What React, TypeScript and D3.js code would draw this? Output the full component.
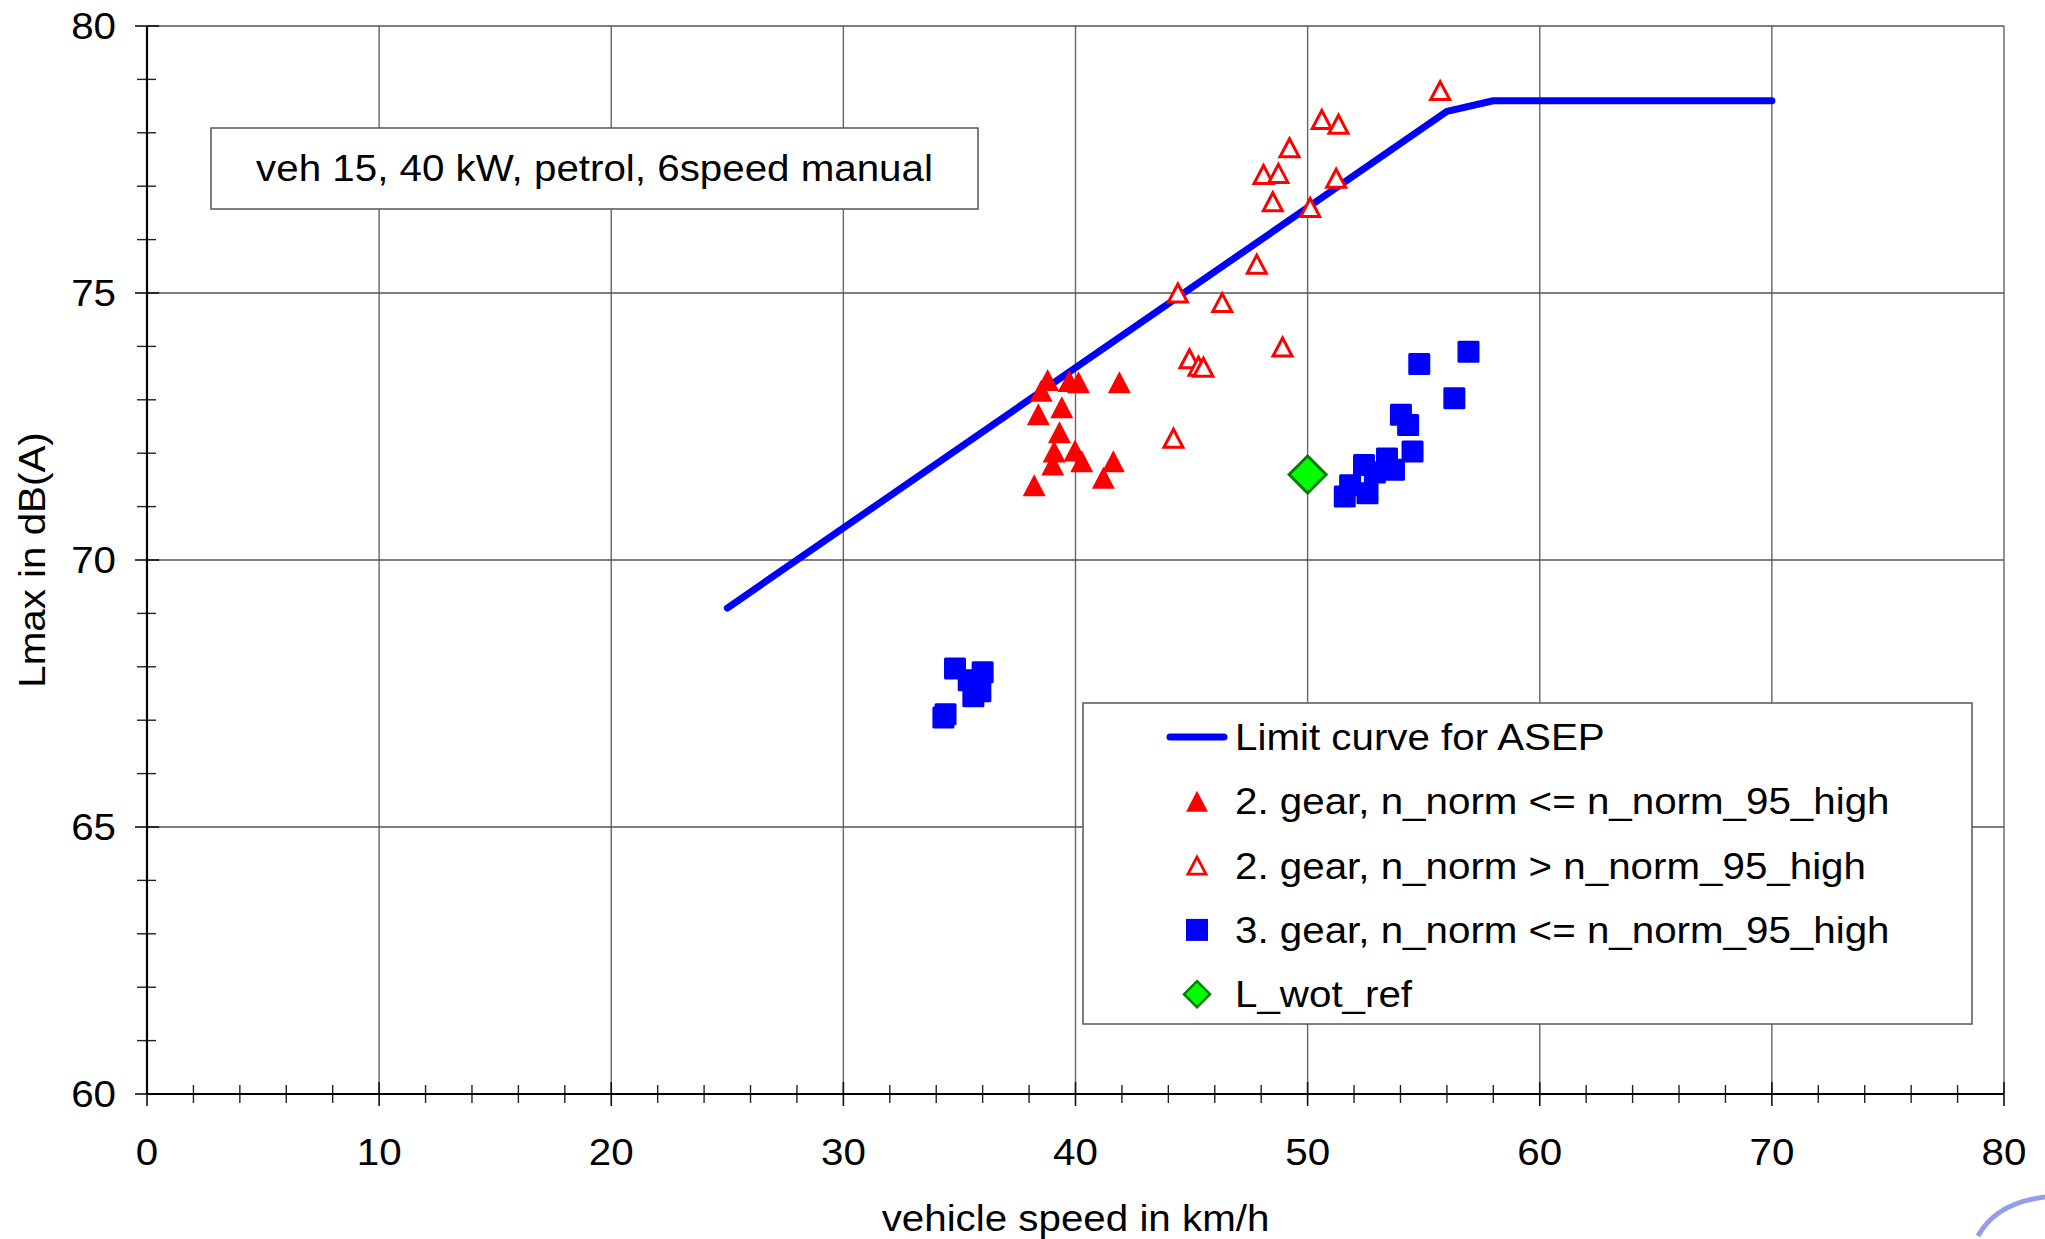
import React from 'react';
import * as d3 from 'd3';

// limit curve (ASEP)
const limitSpeed = [25, 56, 58, 70];
const limitLevel = [69.1, 78.4, 78.6, 78.6];

// 2. gear, n_norm <= n_norm_95_high
const gear2LowSpeed = [38.8, 38.52, 39.73, 40.13, 41.89, 39.41, 38.4, 39.31, 39.08, 39.98, 39.02, 40.27, 41.63, 41.2, 38.22];
const gear2LowLevel = [73.37, 73.17, 73.35, 73.33, 73.33, 72.86, 72.73, 72.39, 72.03, 72.05, 71.79, 71.85, 71.85, 71.54, 71.4];

// 2. gear, n_norm > n_norm_95_high
const gear2HighSpeed = [55.71, 50.61, 51.33, 49.22, 48.1, 48.74, 51.23, 48.5, 50.11, 47.81, 44.41, 46.32, 48.92, 44.91, 45.3, 45.51, 44.22];
const gear2HighLevel = [78.79, 78.25, 78.16, 77.72, 77.22, 77.24, 77.15, 76.71, 76.6, 75.54, 75.0, 74.82, 73.99, 73.77, 73.63, 73.61, 72.28];

// 3. gear, n_norm <= n_norm_95_high
const gear3Speed = [51.6, 51.83, 52.58, 52.43, 52.9, 53.42, 53.72, 54.52, 54.33, 54.02, 56.32, 54.81, 56.93, 34.81, 36.0, 35.4, 35.6, 35.9, 34.31, 34.4];
const gear3Level = [71.19, 71.4, 71.25, 71.78, 71.64, 71.9, 71.69, 72.03, 72.53, 72.72, 73.03, 73.67, 73.9, 67.97, 67.9, 67.75, 67.45, 67.54, 67.05, 67.11];

// L_wot_ref
const wotSpeed = [50.0];
const wotLevel = [71.6];

const xTicks = [0, 10, 20, 30, 40, 50, 60, 70, 80];
const yTicks = [60, 65, 70, 75, 80];

const legendLabels = [
  'Limit curve for ASEP',
  '2. gear, n_norm <= n_norm_95_high',
  '2. gear, n_norm > n_norm_95_high',
  '3. gear, n_norm <= n_norm_95_high',
  'L_wot_ref',
];

const W = 2045;
const H = 1239;
const FONT = "'Liberation Sans', Arial, sans-serif";
const FS = 37;
const STRETCH = 1.09; // text in the original is a bit wider than plain Arial

const triFilled = (cx: number, cy: number, s = 1) =>
  `M${cx},${cy - 11 * s}L${cx + 11.5 * s},${cy + 11 * s}L${cx - 11.5 * s},${cy + 11 * s}Z`;
const triOpen = (cx: number, cy: number, s = 1) =>
  `M${cx},${cy - 9 * s}L${cx + 9.5 * s},${cy + 9 * s}L${cx - 9.5 * s},${cy + 9 * s}Z`;
const diamond = (cx: number, cy: number, r: number) =>
  `M${cx},${cy - r}L${cx + r},${cy}L${cx},${cy + r}L${cx - r},${cy}Z`;

const T = ({ x, y, anchor = 'start', rotate = 0, children }: any) => (
  <text
    transform={`translate(${x},${y}) rotate(${rotate}) scale(${STRETCH},1)`}
    fontSize={FS}
    textAnchor={anchor}
    fill="#000"
  >
    {children}
  </text>
);

export default function App() {
  const x = d3.scaleLinear().domain([0, 80]).range([147, 2004]);
  const y = d3.scaleLinear().domain([60, 80]).range([1094, 26]);

  const xMinor = d3.range(0, 81, 2).filter(v => v % 10 !== 0);
  const yMinor = d3.range(60, 81, 1).filter(v => v % 5 !== 0);

  const line = d3.line<number>()
    .x((_, i) => x(limitSpeed[i]))
    .y((_, i) => y(limitLevel[i]));

  const legX = 1083, legY = 703, legW = 889, legH = 321;
  const rowY = (i: number) => 737 + i * 64.3;
  const symX = 1197;

  return (
    <svg width={W} height={H} style={{ position: 'absolute', left: 0, top: 0, background: '#fff' }} fontFamily={FONT}>
      <rect x={0} y={0} width={W} height={H} fill="#fff" />

      {/* grid */}
      {xTicks.filter(v => v > 0).map(v => (
        <line key={'gx' + v} x1={x(v)} x2={x(v)} y1={y(60)} y2={y(80)} stroke="#666" strokeWidth={1.4} />
      ))}
      {yTicks.filter(v => v > 60).map(v => (
        <line key={'gy' + v} x1={x(0)} x2={x(80)} y1={y(v)} y2={y(v)} stroke="#555" strokeWidth={1.4} />
      ))}

      {/* minor ticks */}
      {xMinor.map(v => (
        <line key={'mx' + v} x1={x(v)} x2={x(v)} y1={y(60) - 9} y2={y(60) + 9} stroke="#222" strokeWidth={1.4} />
      ))}
      {yMinor.map(v => (
        <line key={'my' + v} x1={x(0) - 10} x2={x(0) + 9} y1={y(v)} y2={y(v)} stroke="#222" strokeWidth={1.4} />
      ))}
      {/* major ticks */}
      {xTicks.map(v => (
        <line key={'Mx' + v} x1={x(v)} x2={x(v)} y1={y(60) - 12} y2={y(60) + 12} stroke="#111" strokeWidth={1.6} />
      ))}
      {yTicks.map(v => (
        <line key={'My' + v} x1={x(0) - 12} x2={x(0) + 12} y1={y(v)} y2={y(v)} stroke="#111" strokeWidth={1.6} />
      ))}

      {/* axes */}
      <line x1={x(0)} x2={x(0)} y1={y(80)} y2={y(60)} stroke="#000" strokeWidth={2.2} />
      <line x1={x(0)} x2={x(80)} y1={y(60)} y2={y(60)} stroke="#000" strokeWidth={2.2} />

      {/* tick labels */}
      {xTicks.map(v => (
        <T key={'tx' + v} x={x(v)} y={1165} anchor="middle">{v}</T>
      ))}
      {yTicks.map(v => (
        <T key={'ty' + v} x={116} y={y(v) + 13} anchor="end">{v}</T>
      ))}

      {/* axis titles */}
      <T x={(x(0) + x(80)) / 2} y={1231} anchor="middle">vehicle speed in km/h</T>
      <T x={45} y={(y(60) + y(80)) / 2} anchor="middle" rotate={-90}>Lmax in dB(A)</T>

      {/* annotation */}
      <rect x={211} y={128} width={767} height={81} fill="#fff" stroke="#555" strokeWidth={1.5} />
      <T x={594.5} y={181} anchor="middle">veh 15, 40 kW, petrol, 6speed manual</T>

      {/* limit curve */}
      <path d={line(limitSpeed) || ''} fill="none" stroke="#0000ff" strokeWidth={7} strokeLinecap="round" strokeLinejoin="round" />

      {/* 2. gear > */}
      {gear2HighSpeed.map((v, i) => (
        <path key={'h' + i} d={triOpen(x(v), y(gear2HighLevel[i]))} fill="#fff" stroke="#ff0000" strokeWidth={3} />
      ))}
      {/* 2. gear <= */}
      {gear2LowSpeed.map((v, i) => (
        <path key={'l' + i} d={triFilled(x(v), y(gear2LowLevel[i]))} fill="#ff0000" />
      ))}
      {/* 3. gear */}
      {gear3Speed.map((v, i) => (
        <rect key={'s' + i} x={x(v) - 11} y={y(gear3Level[i]) - 11} width={22} height={22} rx={1.5} fill="#0000ff" />
      ))}
      {/* L_wot_ref */}
      {wotSpeed.map((v, i) => (
        <path key={'w' + i} d={diamond(x(v), y(wotLevel[i]), 18.5)} fill="#00ff00" stroke="#008000" strokeWidth={3} />
      ))}

      {/* legend */}
      <rect x={legX} y={legY} width={legW} height={legH} fill="#fff" stroke="#555" strokeWidth={1.5} />
      <line x1={1170} x2={1224} y1={rowY(0)} y2={rowY(0)} stroke="#0000ff" strokeWidth={7} strokeLinecap="round" />
      <path d={triFilled(symX, rowY(1), 0.95)} fill="#ff0000" />
      <path d={triOpen(symX, rowY(2), 0.95)} fill="#fff" stroke="#ff0000" strokeWidth={2.8} />
      <rect x={symX - 11} y={rowY(3) - 11} width={22} height={22} fill="#0000ff" />
      <path d={diamond(symX, rowY(4), 13)} fill="#00ff00" stroke="#008000" strokeWidth={2.5} />
      {legendLabels.map((t, i) => (
        <T key={'lg' + i} x={1235} y={rowY(i) + 13}>{t}</T>
      ))}

      {/* logo fragment bottom right */}
      <path d="M1978,1236 Q1996,1203 2045,1197" fill="none" stroke="#6f7fe0" strokeWidth={5} opacity={0.75} />
    </svg>
  );
}
